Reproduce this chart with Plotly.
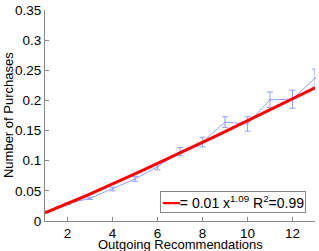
import plotly.graph_objects as go
import numpy as np

x_vals = [1, 2, 3, 4, 5, 6, 7, 8, 9, 10, 11, 12, 13]
purchases = [0.0155, 0.029, 0.0376, 0.053, 0.0697, 0.090, 0.115, 0.131, 0.164, 0.161, 0.201, 0.202, 0.237]
errors = [0.001, 0.0015, 0.002, 0.003, 0.004, 0.005, 0.007, 0.008, 0.009, 0.012, 0.013, 0.015, 0.015]
fit_a = 0.0135
fit_b = 1.09
x_ticks = [2, 4, 6, 8, 10, 12]
y_ticks = [0, 0.05, 0.1, 0.15, 0.2, 0.25, 0.3, 0.35]
y_tick_text = ["0", "0.05", "0.1", "0.15", "0.2", "0.25", "0.3", "0.35"]
legend_label = "= 0.01 x<sup>1.09</sup> R<sup>2</sup>=0.99"

fx = np.linspace(1, 13, 100)
fy = fit_a * fx ** fit_b

fig = go.Figure()
fig.add_trace(go.Scatter(
    x=x_vals, y=purchases, mode="lines+markers",
    line=dict(color="#8fa0ff", width=1),
    marker=dict(size=2, color="#8fa0ff"),
    error_y=dict(type="data", array=errors, color="#8fa0ff", thickness=1, width=3),
    cliponaxis=False, showlegend=False))
fig.add_trace(go.Scatter(
    x=fx, y=fy, mode="lines", line=dict(color="#ff0000", width=3),
    name=legend_label, showlegend=False))

fig.update_layout(
    width=319, height=251,
    margin=dict(l=45, r=4, t=10, b=30, autoexpand=False),
    paper_bgcolor="white", plot_bgcolor="white",
    font=dict(family="Liberation Sans, Arial, sans-serif", size=14, color="black"),
    xaxis=dict(range=[1, 13], tickvals=x_ticks, ticks="inside", ticklen=4,
               showgrid=False, zeroline=False, showline=True, linecolor="#888888",
               tickcolor="#888888", automargin=False, tickfont=dict(size=13.5)),
    yaxis=dict(range=[0, 0.35], tickvals=y_ticks, ticktext=y_tick_text,
               ticks="inside", ticklen=4,
               showgrid=False, zeroline=False, showline=True, linecolor="#888888",
               tickcolor="#888888", automargin=False, tickfont=dict(size=13.5)),
    annotations=[
        dict(text="Outgoing Recommendations", xref="paper", yref="paper",
             x=0.5, y=-0.113, xanchor="center", yanchor="middle", showarrow=False,
             font=dict(size=13)),
        dict(text="Number of Purchases", xref="paper", yref="paper",
             x=-0.135, y=0.5, xanchor="center", yanchor="middle", showarrow=False,
             textangle=-90, font=dict(size=13)),
        dict(text="<span style='color:#ff0000;font-family:DejaVu Sans'>━━</span>" + legend_label,
             xref="paper", yref="paper", x=0.965, y=0.038,
             xanchor="right", yanchor="bottom", showarrow=False,
             bordercolor="#888888", borderwidth=1, borderpad=1, bgcolor="white",
             font=dict(size=14)),
    ],
)
fig.write_html("out.html", config={"displayModeBar": False},
               post_script="document.body.style.margin='0';document.body.style.overflow='hidden';")
